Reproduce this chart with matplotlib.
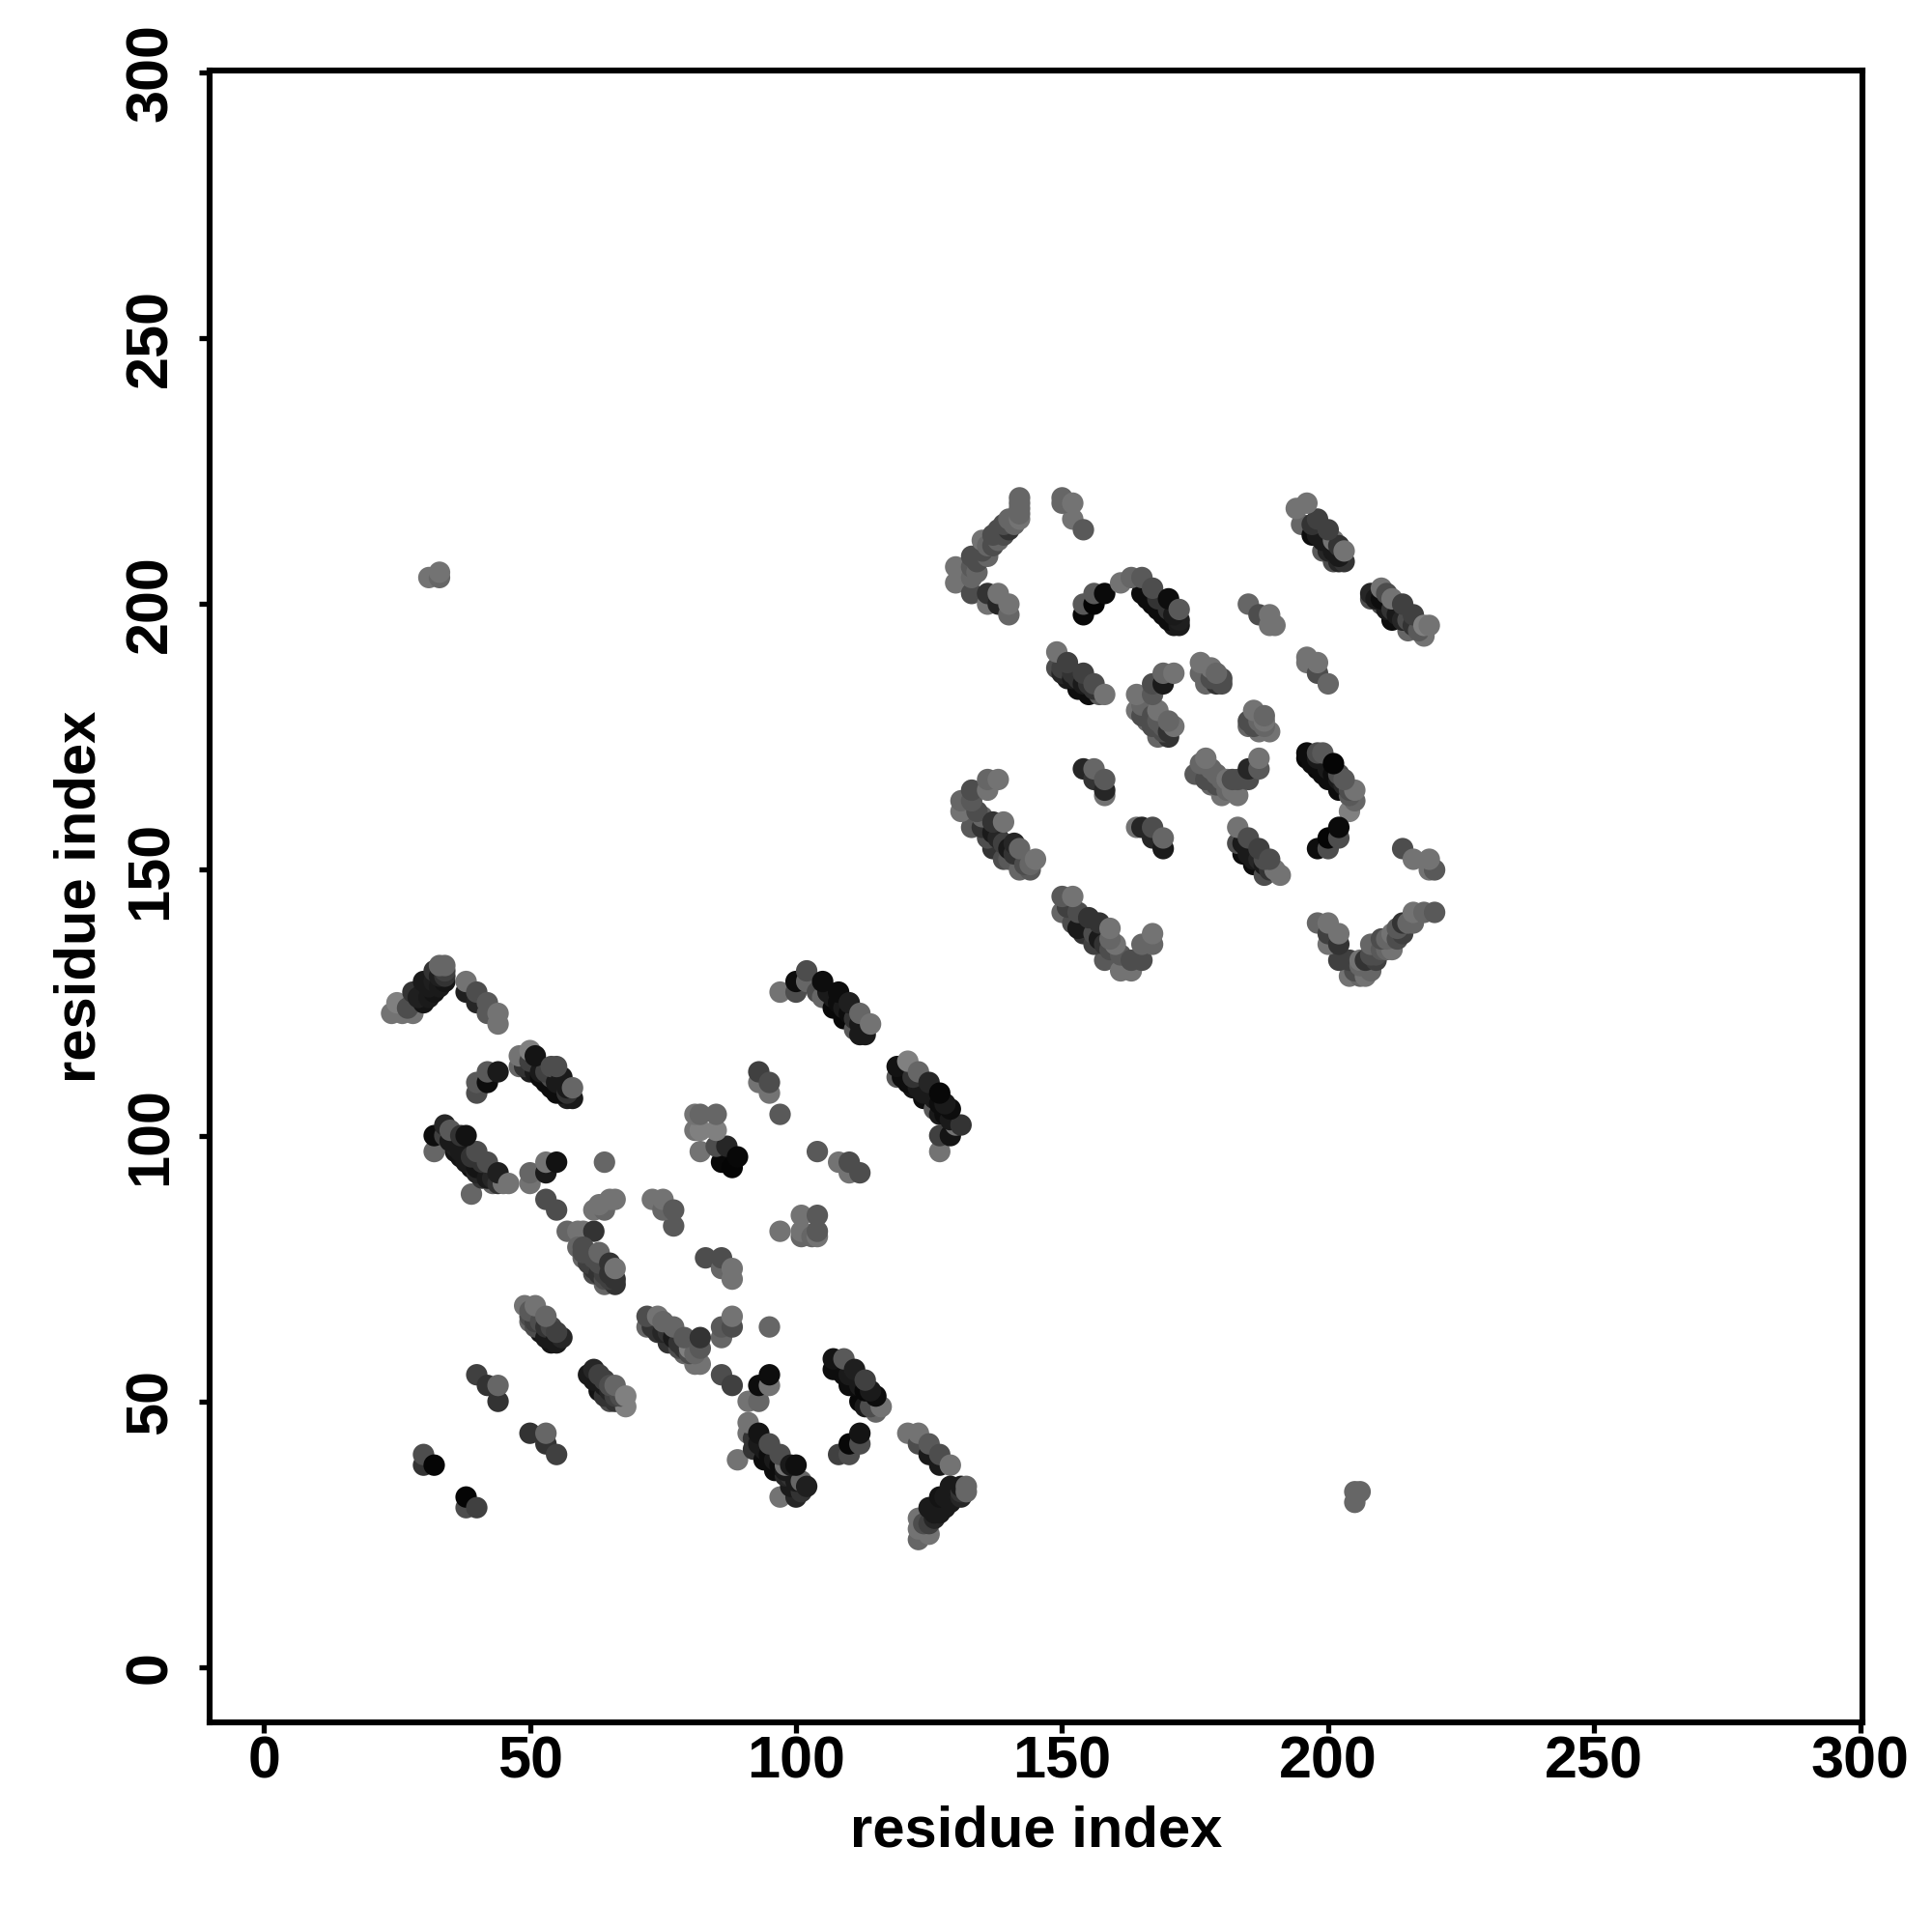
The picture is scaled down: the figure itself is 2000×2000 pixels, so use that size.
import matplotlib
matplotlib.use("Agg")
import matplotlib.pyplot as plt

plt.rcParams['font.family'] = ['Liberation Sans', 'DejaVu Sans']

x_ticks = [0, 50, 100, 150, 200, 250, 300]
y_ticks = [0, 50, 100, 150, 200, 250, 300]
axis_label = "residue index"

# (residue i, residue j, grey level)
band_a = [(24,123,.45),(26,123,.45),(28,123,.45),(25,125,.5),(28,125,.3),(30,125,.08),(28,127,.2),(30,127,.12),(32,127,.08),
          (30,129,.1),(32,129,.12),(34,129,.08),(32,131,.2),(34,130,.2),(34,131,.25),(33,132,.4),(34,132,.4),
          (27,124,.3),(29,126,.12),(31,126,.1),(31,128,.1),(33,128,.1),(33,130,.12)]
band_a2 = [(38,127,.12),(38,129,.45),(40,125,.15),(40,127,.3),(42,123,.35),(42,125,.35),(44,121,.45),(44,123,.45)]
band_b2 = [(40,108,.3),(40,110,.35),(42,110,.05),(42,112,.35),(44,112,.1)]
band_b = [(48,113,.4),(48,115,.45),(50,112,.12),(50,114,.25),(50,116,.5),(52,112,.1),(53,110,.05),(55,108,.05),(57,107,.12),(58,107,.1),
          (51,115,.08),(54,113,.3),(55,113,.3),(54,111,.3),(56,111,.1),(58,109,.4),
          (49,113,.2),(51,112,.1),(52,111,.05),(53,112,.25),(54,109,.05),(55,110,.1),(56,108,.05),(57,109,.1),(57,108,.2)]
band_c = [(32,100,.05),(32,97,.4),(34,102,.15),(34,100,.25),(35,101,.35),(37,96,.08),(36,98,.12),(37,100,.2),(38,100,.07),(39,94,.05),
          (40,97,.3),(39,89,.4),(41,92,.2),(42,95,.3),(44,93,.12),(43,91,.4),(45,91,.45),(46,91,.45),
          (35,99,.1),(36,97,.08),(37,97,.1),(38,96,.1),(38,95,.1),(39,96,.2),(40,94,.08),(40,93,.15),(41,95,.2),(42,92,.1),(43,92,.15),(44,91,.2)]
band_c2 = [(50,93,.4),(50,91,.45),(53,93,.1),(53,95,.45),(55,95,.07),(64,95,.4)]
band_d0 = [(53,88,.3),(55,86,.3),(57,82,.4),(59,82,.45),(60,82,.45),(62,82,.2),(62,86,.45),(64,86,.4),(63,87,.45),(65,88,.45),(66,88,.45),
           (73,88,.45),(75,88,.45),(75,86,.4),(77,86,.35),(77,83,.35)]
band_d = [(59,79,.4),(60,77,.4),(60,79,.3),(61,77,.25),(63,78,.4),(62,75,.2),(64,75,.25),(64,72,.4),(65,76,.2),(66,72,.2),(66,73,.2),(66,75,.45),
          (60,78,.3),(61,76,.25),(62,77,.3),(62,74,.3),(63,76,.3),(63,74,.2),(64,74,.25),(65,74,.2),(65,73,.25),(64,73,.3)]
band_e = [(49,68,.45),(51,68,.45),(50,66,.3),(50,65,.4),(53,66,.4),(52,63,.08),(54,64,.28),(54,61,.08),(56,62,.15),(55,61,.1),
          (50,67,.35),(51,65,.25),(51,64,.3),(52,65,.3),(53,62,.1),(53,64,.2),(55,63,.25),(55,62,.1)]
band_f = [(61,55,.1),(62,56,.15),(63,55,.25),(63,52,.07),(66,53,.4),(65,50,.3),(66,50,.2),(68,51,.5),(68,49,.5),
          (62,54,.1),(64,53,.1),(64,54,.25),(65,52,.15),(65,53,.3),(66,51,.25),(67,51,.3),(64,51,.2)]
band_s1 = [(40,55,.25),(42,53,.2),(44,53,.4),(44,50,.2),(50,44,.2),(53,44,.4),(53,42,.2),(55,40,.25),(30,40,.3),(30,38,.2),(32,38,.02),
           (38,32,.02),(38,30,.3),(40,30,.25)]
band_g = [(72,66,.3),(72,64,.4),(74,66,.45),(74,63,.2),(77,64,.4),(76,61,.2),(79,62,.35),(79,59,.4),(80,60,.5),(82,62,.2),(82,60,.35),(81,57,.45),(82,57,.45),
          (73,64,.2),(75,63,.15),(75,65,.4),(76,63,.2),(77,62,.1),(78,61,.2),(78,60,.3),(79,60,.2),(80,59,.3),(81,59,.4)]
band_g2 = [(86,64,.35),(86,62,.4),(88,66,.45),(88,64,.3),(95,64,.4),(86,55,.3),(88,53,.25),(91,50,.45),(93,50,.4),(93,53,.05),(95,53,.45),(95,55,.05)]
band_g3 = [(83,77,.3),(86,77,.3),(86,75,.4),(88,75,.45),(88,73,.45),(97,82,.45),(101,82,.45),(101,81,.4),(104,82,.35),(104,81,.45),(103,81,.4),
           (104,85,.35),(101,85,.45)]
band_h = [(97,127,.45),(100,127,.3),(100,129,.05),(102,129,.4),(102,131,.3),(104,127,.3),(105,126,.4),(105,129,.05),(107,124,.03),(108,127,.05),
          (109,122,.03),(110,125,.12),(111,120,.35),(112,119,.1),(113,119,.1),(112,123,.4),(114,121,.45),
          (106,127,.1),(107,126,.1),(108,125,.05),(109,124,.1),(110,123,.05),(111,122,.2),(112,121,.1),(113,120,.1)]
band_h2 = [(93,112,.25),(93,110,.45),(95,110,.3),(95,108,.45),(97,104,.35),(104,97,.35),(108,95,.45),(110,95,.3),(110,93,.45),(112,93,.3)]
band_h3 = [(81,104,.45),(82,104,.4),(85,104,.4),(81,101,.45),(82,101,.5),(85,101,.5),(82,97,.45),(85,98,.3),(87,98,.15),(86,95,.03),(88,94,.02),(89,96,.03)]
band_i = [(119,113,.07),(119,111,.35),(121,114,.5),(122,109,.08),(123,112,.4),(124,107,.05),(125,110,.15),(126,105,.35),(127,108,.03),(129,105,.05),
          (127,104,.1),(129,100,.08),(127,100,.25),(127,97,.45),(131,102,.2),(130,102,.45),
          (120,111,.05),(121,110,.05),(122,111,.2),(123,109,.1),(124,108,.1),(125,108,.1),(126,107,.1),(127,106,.05),(128,104,.05),(128,106,.1),(129,103,.1)]
band_j = [(91,46,.45),(91,44,.45),(92,41,.2),(93,44,.08),(94,39,.05),(95,42,.3),(96,37,.05),(97,40,.3),(98,38,.45),(89,39,.45),(97,32,.45),
          (100,38,.06),(99,36,.2),(101,35,.4),(100,32,.15),(102,34,.12),
          (92,43,.2),(93,42,.1),(94,41,.1),(95,40,.05),(96,39,.1),(97,38,.05),(98,37,.1),(99,38,.1),(99,34,.1),(100,35,.1),(101,33,.2),(98,36,.15)]
band_k = [(107,58,.08),(107,56,.05),(109,58,.35),(110,53,.05),(111,56,.12),(113,54,.25),(112,50,.03),(115,51,.05),(115,48,.4),(116,49,.45),
          (108,56,.05),(109,55,.05),(110,55,.1),(111,53,.05),(112,53,.1),(113,52,.03),(114,52,.1),(113,49,.1),(114,49,.3)]
band_k2 = [(112,44,.08),(112,42,.3),(110,42,.03),(110,40,.3),(108,40,.25)]
band_l = [(121,44,.45),(123,44,.45),(123,42,.3),(125,42,.35),(125,40,.1),(127,40,.3),(127,38,.1),(129,38,.45)]
band_m = [(123,28,.45),(123,24,.4),(125,25,.45),(123,26,.45),(125,27,.25),(125,30,.1),(127,29,.1),(127,32,.08),(129,31,.1),(129,34,.1),(131,34,.1),(132,34,.4),
          (132,33,.4),(124,27,.3),(126,28,.15),(126,29,.1),(128,30,.1),(128,32,.1),(130,32,.1),(130,33,.1),(131,32,.15),(131,33,.2)]
band_far = [(205,33,.4),(205,31,.4),(206,33,.4),(31,205,.45),(33,206,.45),(33,205,.4)]
band_n = [(142,220,.4),(142,219,.4),(142,216,.45),(140,216,.4),(140,214,.2),(138,214,.3),(138,212,.4),(135,212,.45),(136,211,.4),(136,209,.4),(133,209,.3),
          (133,207,.35),(130,207,.45),(130,204,.45),(133,202,.3),(133,205,.4),
          (134,208,.3),(135,210,.3),(134,206,.4),(137,211,.3),(137,213,.3),(139,213,.3),(139,215,.3),(141,215,.4),(142,217,.4),(142,218,.4)]
band_n3 = [(136,202,.2),(136,200,.45),(138,202,.45),(138,200,.15),(140,200,.45),(140,198,.4)]
band_n2 = [(150,220,.4),(150,219,.4),(152,219,.45),(152,216,.45),(154,214,.35),(154,198,.03),(154,200,.35),(156,202,.35),(156,200,.01),(158,202,.04)]
band_o = [(161,204,.45),(163,205,.4),(165,205,.35),(165,202,.05),(167,200,.03),(167,203,.3),(169,198,.05),(170,201,.05),(171,196,.1),(172,196,.1),(172,197,.12),(172,199,.35),
          (166,201,.05),(168,199,.05),(168,201,.2),(170,197,.05),(170,199,.2),(171,198,.1)]
band_p = [(149,191,.45),(149,188,.3),(151,189,.25),(151,186,.1),(154,187,.25),(153,184,.05),(156,185,.3),(155,183,.05),(158,183,.45),(157,183,.35),
          (150,187,.15),(150,188,.25),(152,186,.1),(152,187,.2),(153,186,.2),(154,185,.1),(155,185,.2),(156,184,.2)]
band_q = [(169,187,.4),(171,187,.45),(169,185,.1),(167,185,.3),(167,183,.35),(164,183,.45),(164,180,.45),(166,178,.4),(168,180,.45),(169,177,.35),(168,175,.4),
          (171,177,.45),(170,175,.2),(165,181,.4),(165,179,.3),(167,179,.3),(167,177,.3),(168,178,.35),(169,176,.3),(170,178,.4),(170,176,.2)]
band_r = [(176,189,.45),(176,187,.4),(178,188,.45),(177,185,.4),(179,185,.2),(180,186,.3),(177,187,.4),(178,186,.3),(179,187,.4),(180,185,.3)]
band_r2 = [(185,200,.4),(187,198,.3),(189,198,.45),(189,196,.45),(190,196,.45)]
band_s = [(194,218,.45),(196,219,.45),(195,215,.4),(198,216,.25),(197,213,.05),(200,214,.25),(199,210,.35),(201,212,.45),(202,211,.2),(201,208,.3),(203,210,.45),(203,208,.2),
          (197,215,.2),(198,213,.1),(199,212,.1),(200,210,.15),(201,210,.1),(202,209,.1),(202,208,.15)]
band_t = [(208,202,.15),(208,201,.3),(210,203,.45),(210,200,.3),(211,202,.3),(212,201,.45),(212,197,.05),(214,200,.25),(215,195,.4),(216,198,.25),(218,194,.45),
          (219,196,.45),(218,196,.5),(209,201,.1),(210,201,.05),(211,199,.1),(212,199,.2),(213,198,.1),(214,197,.15),(215,197,.3),(216,196,.2),(217,195,.35)]
band_t2 = [(196,190,.45),(196,189,.45),(198,189,.45),(198,187,.3),(200,185,.4)]
band_t3 = [(186,180,.45),(185,178,.3),(188,179,.4),(185,177,.4),(187,176,.45),(189,176,.45),(186,178,.3),(187,178,.4),(186,177,.3),(188,177,.4),(188,178,.45)]
band_u = [(136,167,.4),(138,167,.45),(136,165,.45),(133,165,.3),(131,163,.4),(131,161,.45),(133,163,.35),(133,158,.35),(135,160,.4),(136,156,.3),(137,159,.2),
          (137,154,.2),(139,159,.45),(139,152,.3),(141,155,.15),(140,152,.35),(142,154,.4),(142,150,.4),(144,150,.35),(145,152,.45),
          (134,161,.3),(135,158,.2),(137,157,.1),(138,156,.15),(139,155,.25),(140,154,.1),(141,153,.2),(143,151,.3),(144,151,.4)]
band_v = [(150,145,.35),(150,142,.4),(152,145,.45),(152,140,.3),(155,141,.2),(154,138,.2),(157,140,.2),(156,136,.25),(159,139,.45),(158,133,.35),(160,136,.45),
          (161,134,.35),(161,131,.45),(163,131,.45),(163,133,.3),(165,133,.3),(165,136,.4),(167,136,.4),(167,138,.45),
          (151,143,.25),(153,142,.3),(153,139,.1),(155,139,.1),(156,138,.3),(157,137,.1),(158,136,.2),(159,135,.3),(159,137,.4)]
band_v2 = [(154,169,.15),(156,169,.4),(156,167,.2),(158,167,.35),(158,165,.15),(158,164,.45)]
band_v3 = [(164,158,.45),(165,158,.15),(167,158,.3),(167,156,.15),(169,156,.4),(169,154,.1)]
band_w = [(175,168,.35),(177,171,.45),(176,168,.35),(178,166,.4),(179,168,.4),(180,164,.45),(181,167,.45),(183,164,.45),(183,167,.3),(185,167,.3),(185,169,.15),
          (187,169,.35),(187,171,.45),(176,170,.4),(177,167,.3),(178,169,.4),(179,166,.3),(180,167,.4),(181,165,.4),(182,165,.45),(182,167,.3)]
band_x = [(183,158,.45),(183,155,.3),(185,156,.3),(184,153,.05),(187,154,.25),(186,151,.05),(189,152,.3),(188,149,.3),(190,150,.45),(191,149,.45),
          (184,155,.1),(185,154,.1),(185,153,.1),(186,152,.1),(187,152,.15),(188,151,.1),(188,152,.3),(189,150,.2)]
band_y = [(196,172,.05),(196,171,.03),(198,172,.3),(198,169,.03),(199,172,.35),(201,170,.02),(200,167,.05),(202,168,.3),(202,165,.05),(205,165,.45),(205,163,.4),(204,161,.5),
          (197,170,.05),(198,171,.1),(199,168,.05),(200,169,.1),(201,168,.05),(202,167,.1),(203,166,.15),(203,167,.35),(204,165,.3),(204,164,.35)]
band_y2 = [(202,158,.04),(202,156,.3),(200,156,.02),(200,154,.3),(198,154,.05)]
band_y3 = [(214,154,.3),(216,152,.45),(219,152,.45),(219,150,.45),(220,150,.35)]
band_z = [(198,140,.4),(200,140,.45),(200,138,.25),(200,136,.45),(202,138,.45),(202,136,.2),(202,133,.25),(204,133,.25),(204,130,.45),(206,130,.4),(207,130,.45),
          (206,133,.45),(207,133,.2),(209,133,.25),(209,136,.4),(211,135,.4),(212,138,.45),(212,135,.45),(214,138,.25),(214,140,.2),(216,140,.4),(216,142,.45),
          (218,142,.4),(220,142,.35),(205,131,.3),(206,132,.4),(208,134,.3),(209,134,.3),(210,135,.35),(210,137,.3),(211,137,.4),(213,137,.3),(213,139,.35),(215,140,.4),(208,131,.4),(208,136,.4)]

bands = [band_a, band_a2, band_b2, band_b, band_c, band_c2, band_d0, band_d, band_e, band_f, band_s1,
         band_g, band_g2, band_g3, band_h, band_h2, band_h3, band_i, band_j, band_k, band_k2, band_l, band_m, band_far,
         band_n, band_n2, band_n3, band_o, band_p, band_q, band_r, band_r2, band_s, band_t, band_t2, band_t3, band_u, band_v, band_v2, band_v3,
         band_w, band_x, band_y, band_y2, band_y3, band_z]

fig = plt.figure(figsize=(10, 10), dpi=200, facecolor='white')
ax = fig.add_axes([217/2000, 1 - 1783/2000, (1928 - 217)/2000, (1783 - 73)/2000])

for band in bands:
    pts = sorted(band, key=lambda p: p[0] + p[1])
    ax.scatter([p[0] for p in pts], [p[1] for p in pts],
               c=[(p[2], p[2], p[2]) for p in pts], s=64, linewidths=0, zorder=3)

ax.set_xlim(-10.2, 300.4)
ax.set_ylim(-10.4, 300.4)
ax.set_xticks(x_ticks)
ax.set_yticks(y_ticks)
ax.set_xticklabels([str(t) for t in x_ticks], fontsize=22, fontweight='bold')
ax.set_yticklabels([str(t) for t in y_ticks], fontsize=22, fontweight='bold', rotation=90, va='center')
ax.tick_params(axis='both', length=4, width=1.9, color='black')
ax.tick_params(axis='x', pad=0.8)
ax.tick_params(axis='y', pad=7.3)
for s in ax.spines.values():
    s.set_linewidth(2.2)
ax.set_xlabel(axis_label, fontsize=21.5, fontweight='bold', labelpad=5.3)
ax.set_ylabel(axis_label, fontsize=21.5, fontweight='bold', labelpad=6.4)

fig.savefig('out.png', dpi=200, facecolor='white')
